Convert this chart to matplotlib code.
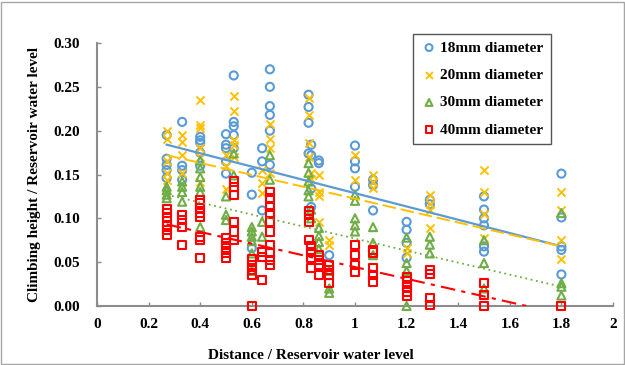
import matplotlib
matplotlib.use("Agg")
import matplotlib.pyplot as plt
from matplotlib.patches import Rectangle
from matplotlib.ticker import FormatStrFormatter, FuncFormatter

plt.rcParams['font.family'] = ['Liberation Serif', 'DejaVu Serif']
plt.rcParams['font.weight'] = 'bold'

# ---- data ----
labels = ["18mm diameter", "20mm diameter", "30mm diameter", "40mm diameter"]

x18 = [0.27]*5 + [0.33]*4 + [0.40]*5 + [0.50]*5 + [0.53]*5 + [0.60]*3 + [0.64]*3 + [0.67]*6 \
    + [0.82]*4 + [0.83]*4 + [0.86]*2 + [0.90]*1 + [1.0]*4 + [1.07]*3 + [1.2]*4 + [1.29]*2 + [1.5]*6 + [1.8]*5
y18 = [0.195, 0.168, 0.161, 0.155, 0.146,
       0.210, 0.160, 0.155, 0.144,
       0.193, 0.189, 0.186, 0.175, 0.160,
       0.196, 0.184, 0.180, 0.165, 0.151,
       0.263, 0.210, 0.205, 0.195, 0.180,
       0.152, 0.127, 0.066,
       0.180, 0.165, 0.109,
       0.270, 0.250, 0.228, 0.218, 0.200, 0.161,
       0.241, 0.227, 0.209, 0.174,
       0.184, 0.172, 0.134, 0.113,
       0.166, 0.163,
       0.058,
       0.183, 0.165, 0.157, 0.136,
       0.144, 0.138, 0.109,
       0.096, 0.087, 0.072, 0.055,
       0.121, 0.116,
       0.125, 0.110, 0.100, 0.092, 0.068, 0.062,
       0.151, 0.101, 0.068, 0.064, 0.036]

x20 = [0.27]*5 + [0.33]*4 + [0.40]*6 + [0.50]*3 + [0.53]*5 + [0.64]*3 + [0.67]*4 + [0.82]*4 \
    + [0.83]*2 + [0.86]*4 + [0.90]*2 + [1.0]*2 + [1.07]*3 + [1.2]*2 + [1.29]*4 + [1.5]*4 + [1.8]*4
y20 = [0.200, 0.190, 0.165, 0.152, 0.144,
       0.195, 0.187, 0.172, 0.152,
       0.235, 0.206, 0.203, 0.180, 0.170, 0.141,
       0.172, 0.160, 0.134,
       0.239, 0.222, 0.189, 0.184, 0.170,
       0.155, 0.140, 0.129,
       0.208, 0.190, 0.180, 0.152,
       0.237, 0.218, 0.186, 0.170,
       0.152, 0.145,
       0.150, 0.130, 0.125, 0.096,
       0.075, 0.070,
       0.172, 0.144,
       0.150, 0.142, 0.135,
       0.066, 0.060,
       0.127, 0.116, 0.109, 0.089,
       0.155, 0.130, 0.105, 0.078,
       0.130, 0.110, 0.075, 0.054]

x30 = [0.27]*4 + [0.33]*4 + [0.40]*6 + [0.50]*3 + [0.53]*2 + [0.60]*6 + [0.64]*2 + [0.67]*2 \
    + [0.82]*5 + [0.83]*2 + [0.86]*4 + [0.90]*3 + [1.0]*5 + [1.07]*3 + [1.2]*4 + [1.29]*3 + [1.5]*3 + [1.8]*4
y30 = [0.136, 0.132, 0.127, 0.123,
       0.142, 0.136, 0.130, 0.119,
       0.166, 0.157, 0.147, 0.136, 0.130, 0.090,
       0.125, 0.104, 0.098,
       0.174, 0.149,
       0.090, 0.085, 0.079, 0.074, 0.060, 0.040,
       0.096, 0.079,
       0.172, 0.144,
       0.163, 0.152, 0.142, 0.132, 0.125,
       0.110, 0.100,
       0.089, 0.080, 0.073, 0.065,
       0.040, 0.020, 0.015,
       0.127, 0.120, 0.100, 0.092, 0.085,
       0.090, 0.072, 0.058,
       0.078, 0.049, 0.040, 0.000,
       0.079, 0.070, 0.060,
       0.075, 0.049, 0.020,
       0.106, 0.026, 0.022, 0.012]

x40 = [0.27]*6 + [0.33]*4 + [0.40]*8 + [0.50]*5 + [0.53]*6 + [0.60]*5 + [0.64]*3 + [0.67]*10 \
    + [0.82]*4 + [0.83]*4 + [0.86]*4 + [0.90]*4 + [1.0]*4 + [1.07]*5 + [1.2]*5 + [1.29]*4 + [1.5]*3 + [1.8]*1
y40 = [0.111, 0.106, 0.100, 0.092, 0.087, 0.081,
       0.104, 0.098, 0.090, 0.070,
       0.121, 0.117, 0.112, 0.106, 0.102, 0.079, 0.075, 0.055,
       0.078, 0.072, 0.066, 0.060, 0.055,
       0.142, 0.136, 0.127, 0.096, 0.085, 0.075,
       0.053, 0.047, 0.041, 0.035, 0.000,
       0.062, 0.056, 0.030,
       0.130, 0.123, 0.113, 0.106, 0.096, 0.085, 0.070, 0.060, 0.052, 0.047,
       0.108, 0.104, 0.096, 0.075,
       0.068, 0.062, 0.055, 0.043,
       0.058, 0.052, 0.047, 0.035,
       0.047, 0.041, 0.035, 0.026,
       0.070, 0.058, 0.047, 0.039,
       0.064, 0.061, 0.043, 0.035, 0.028,
       0.033, 0.028, 0.022, 0.016, 0.011,
       0.041, 0.036, 0.009, 0.001,
       0.026, 0.013, 0.000,
       0.000]

# linear trend lines (slope, intercept)
trend_slope = [-0.0758, -0.0680, -0.0686, -0.0668]
trend_intercept = [0.2045, 0.1904, 0.1455, 0.1112]

xs = [x18, x20, x30, x40]
ys = [y18, y20, y30, y40]
colors = ['#5B9BD5', '#FFC000', '#70AD47', '#FF0000']
markers = ['o', 'x', '^', 's']
linestyles = ['-', (0, (7, 2.5)), (0, (1, 2)), (0, (7, 3, 2, 3))]
linewidths = [1.6, 1.4, 1.3, 1.5]

fig = plt.figure(figsize=(6.25, 3.65), dpi=100)
ax = fig.add_axes([97/625, 1 - 306/365, 516/625, 263/365])

handles = []
for x, y, c, m, lab in zip(xs, ys, colors, markers, labels):
    if m == 'x':
        h = ax.scatter(x, y, marker=m, s=34, c=c, linewidths=1.4, label=lab, clip_on=False, zorder=3)
    else:
        h = ax.scatter(x, y, marker=m, s=34, facecolors='none', edgecolors=c, linewidths=1.5,
                       label=lab, clip_on=False, zorder=3)
    handles.append(h)

for x, c, ls, lw, k, b in zip(xs, colors, linestyles, linewidths, trend_slope, trend_intercept):
    x0, x1 = min(x), max(x)
    ax.plot([x0, x1], [k*x0 + b, k*x1 + b], color=c, linestyle=ls, linewidth=lw, zorder=4)

ax.set_xlim(0, 2)
ax.set_ylim(0, 0.30)
ax.set_xticks([0, 0.2, 0.4, 0.6, 0.8, 1.0, 1.2, 1.4, 1.6, 1.8, 2.0])
ax.set_yticks([0, 0.05, 0.10, 0.15, 0.20, 0.25, 0.30])
ax.xaxis.set_major_formatter(FuncFormatter(lambda v, p: '%g' % v))
ax.yaxis.set_major_formatter(FormatStrFormatter('%.2f'))
for s in ['top', 'right']:
    ax.spines[s].set_visible(False)
for s in ['left', 'bottom']:
    ax.spines[s].set_color('#8c8c8c')
    ax.spines[s].set_linewidth(1.5)
ax.tick_params(axis='both', direction='in', length=3, width=1, color='#8c8c8c',
               labelsize=11, labelcolor='black')
ax.tick_params(axis='x', pad=9)
ax.tick_params(axis='y', pad=12)
for t in ax.get_xticklabels() + ax.get_yticklabels():
    t.set_fontweight('bold')

ax.set_xlabel('Distance / Reservoir water level', fontsize=11, fontweight='bold')
ax.xaxis.set_label_coords(0.415, -0.162)
ax.set_ylabel('Climbing height / Reservoir water level', fontsize=11, fontweight='bold')
ax.yaxis.set_label_coords(-0.108, 0.5)

leg = ax.legend(handles=handles, loc='upper left', bbox_to_anchor=((413-97)/516, (306-34)/263),
                frameon=True, fancybox=False, edgecolor='#555555', framealpha=1,
                prop={'weight': 'bold', 'size': 11}, handletextpad=0.15, handlelength=1.2,
                labelspacing=0.9, borderpad=0.45, borderaxespad=0, markerscale=0.85)
leg.get_frame().set_linewidth(1.0)

fig.patches.append(Rectangle((1/625, 1/365), 623/625, 362/365, transform=fig.transFigure,
                             fill=False, edgecolor='#a6a6a6', linewidth=1.0))

fig.savefig('out.png', dpi=100)
